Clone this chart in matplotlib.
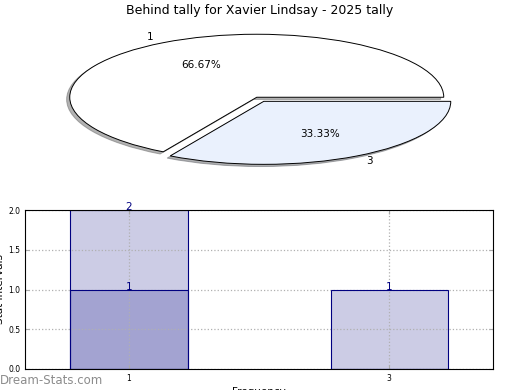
import matplotlib
matplotlib.use("Agg")
import matplotlib.pyplot as plt

# pie data
pie_labels = ["1", "3"]
pie_values = [2, 1]
pie_colors = ["#ffffff", "#eaf1fd"]

# bar data
bar_cats = ["1", "3"]
bar_totals = [2, 1]
bar_inner = [1, 0]

fig = plt.figure(figsize=(5.2, 3.9), dpi=100)

ax1 = fig.add_axes([23 / 520, 214 / 390, 467.5 / 520, 157.5 / 390])
ax1.pie(pie_values, labels=pie_labels, colors=pie_colors, explode=[0, 0.075],
        autopct="%.2f%%", pctdistance=0.6, labeldistance=1.1,
        shadow=dict(ox=-0.012, oy=-0.025, shade=0.6),
        startangle=0, counterclock=True,
        wedgeprops=dict(edgecolor="black", linewidth=0.7),
        textprops=dict(fontsize=7.5))
ax1.set_aspect("auto")
ax1.set_xlim(-1.25, 1.25)
ax1.set_ylim(-1.25, 1.25)
fig.text(0.5, 0.973, "Behind tally for Xavier Lindsay - 2025 tally",
         ha="center", va="center", fontsize=9)

ax2 = fig.add_axes([25 / 520, 21 / 390, 468 / 520, 159 / 390])
x = list(range(len(bar_cats)))
# fills under the grid, outlines above it
ax2.bar(x, bar_totals, width=0.45, color="#ccccE5", linewidth=0, zorder=2)
ax2.bar(x, bar_inner, width=0.45, color="#a3a3d1", linewidth=0, zorder=2)
ax2.bar(x, bar_totals, width=0.45, fill=False, edgecolor="navy", linewidth=0.8, zorder=4)
ax2.bar(x, bar_inner, width=0.45, fill=False, edgecolor="navy", linewidth=0.8, zorder=4)
for xi, v in zip(x, bar_totals):
    ax2.text(xi, v, str(v), ha="center", va="baseline", color="navy", fontsize=7.5, zorder=6)
for xi, v in zip(x, bar_inner):
    if v > 0:
        ax2.text(xi, v, str(v), ha="center", va="baseline", color="navy", fontsize=7.5, zorder=6)
ax2.set_xlim(-0.4, 1.4)
ax2.set_ylim(0, 2)
ax2.set_xticks(x)
ax2.set_xticklabels(bar_cats)
ax2.set_yticks([0, 0.5, 1.0, 1.5, 2.0])
ax2.set_yticklabels(["0.0", "0.5", "1.0", "1.5", "2.0"])
ax2.tick_params(labelsize=5.5, direction="in", top=True, right=True, length=3, color="#aaaaaa")
ax2.grid(True, linestyle=":", color="#b0b0b0", linewidth=0.9, zorder=3)
ax2.set_axisbelow(False)
for sp in ax2.spines.values():
    sp.set_zorder(5)
ax2.set_ylabel("Stat Intervals", fontsize=7.5, labelpad=1)
ax2.set_xlabel("Frequency", fontsize=7.5, labelpad=4)
ax2.yaxis.set_label_coords(-0.042, 0.5)
ax2.xaxis.set_label_coords(0.5, -0.115)

fig.text(0.0, 0.025, "Dream-Stats.com", ha="left", va="center", color="#8c8c8c", fontsize=8.5)

fig.savefig("out.png", dpi=100)
